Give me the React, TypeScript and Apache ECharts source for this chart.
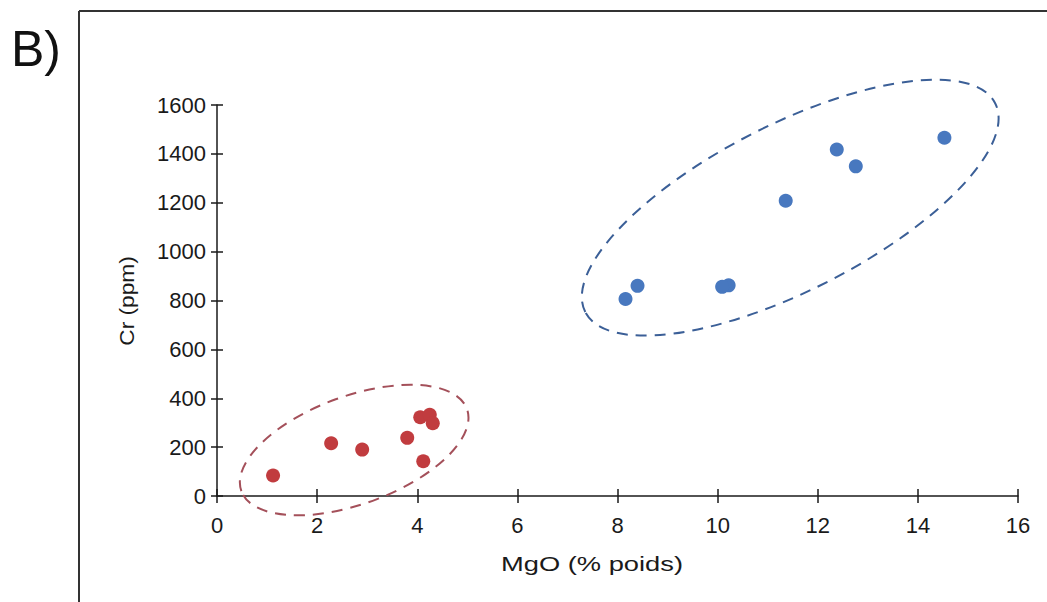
import React, { useEffect, useRef } from "react";
import * as echarts from "echarts";

// MgO (% poids) vs Cr (ppm)
const redMgO = [1.12, 2.28, 2.9, 3.8, 4.06, 4.25, 4.31, 4.12];
const redCr = [84, 216, 190, 238, 322, 332, 298, 142];
const blueMgO = [14.53, 12.38, 12.76, 11.36, 10.22, 10.09, 8.4, 8.16];
const blueCr = [1466, 1418, 1349, 1208, 862, 856, 860, 806];
// ellipse centres (data units)
const redCenter = [2.74, 188];
const blueCenter = [11.45, 1180];
const xTicks = [0, 2, 4, 6, 8, 10, 12, 14, 16];
const yTicks = [0, 200, 400, 600, 800, 1000, 1200, 1400, 1600];

const FONT = "'Liberation Sans', Arial, sans-serif";
const RED = "#c13c3f";
const BLUE = "#4878bf";

function ellipseSeries(center: number[], rx: number, ry: number, deg: number, color: string) {
  return {
    type: "custom",
    xAxisIndex: 0,
    yAxisIndex: 0,
    clip: false,
    silent: true,
    data: [center],
    renderItem: (params: any, api: any) => {
      const p = api.coord([api.value(0), api.value(1)]);
      return {
        type: "ellipse",
        x: p[0],
        y: p[1],
        rotation: (deg * Math.PI) / 180,
        shape: { cx: 0, cy: 0, rx, ry },
        style: { fill: "none", stroke: color, lineWidth: 2, lineDash: [11, 8] },
      };
    },
    z: 1,
  };
}

export default function App() {
  const ref = useRef<HTMLDivElement>(null);
  useEffect(() => {
    if (!ref.current) return;
    const chart = echarts.init(ref.current, undefined, { renderer: "svg" });
    const axisLine = { show: true, onZero: false, lineStyle: { color: "#1a1a1a", width: 1.5 } };
    const tickStyle = { color: "#1a1a1a", width: 1.5 };
    const fmt = (v: number) => String(v);
    chart.setOption({
      animation: false,
      backgroundColor: "#ffffff",
      grid: { left: 217, top: 105, width: 801, height: 391, containLabel: false },
      xAxis: [
        {
          type: "value",
          min: xTicks[0],
          max: xTicks[xTicks.length - 1],
          interval: 2,
          position: "bottom",
          axisLine,
          axisTick: { show: true, length: 7, lineStyle: tickStyle },
          axisLabel: { color: "#1a1a1a", fontSize: 22, fontFamily: FONT, margin: 18, formatter: fmt },
          splitLine: { show: false },
        },
        {
          type: "value",
          min: xTicks[0],
          max: xTicks[xTicks.length - 1],
          interval: 2,
          position: "bottom",
          axisLine: { show: false },
          axisTick: { show: true, inside: true, length: 7, lineStyle: tickStyle },
          axisLabel: { show: false },
          splitLine: { show: false },
        },
      ],
      yAxis: [
        {
          type: "value",
          min: yTicks[0],
          max: yTicks[yTicks.length - 1],
          interval: 200,
          position: "left",
          axisLine,
          axisTick: { show: true, length: 6, lineStyle: tickStyle },
          axisLabel: { color: "#1a1a1a", fontSize: 22, fontFamily: FONT, margin: 11, formatter: fmt },
          splitLine: { show: false },
        },
        {
          type: "value",
          min: yTicks[0],
          max: yTicks[yTicks.length - 1],
          interval: 200,
          position: "left",
          axisLine: { show: false },
          axisTick: { show: true, inside: true, length: 6, lineStyle: tickStyle },
          axisLabel: { show: false },
          splitLine: { show: false },
        },
      ],
      series: [
        ellipseSeries(redCenter, 120, 54, 20, "#a4505a"),
        ellipseSeries(blueCenter, 230, 83, 27, "#3b5f97"),
        {
          type: "scatter",
          xAxisIndex: 0,
          yAxisIndex: 0,
          symbolSize: 14,
          itemStyle: { color: RED, opacity: 1 },
          data: redMgO.map((v, i) => [v, redCr[i]]),
          z: 3,
        },
        {
          type: "scatter",
          xAxisIndex: 0,
          yAxisIndex: 0,
          symbolSize: 14,
          itemStyle: { color: BLUE, opacity: 1 },
          data: blueMgO.map((v, i) => [v, blueCr[i]]),
          z: 3,
        },
      ],
      graphic: [
        { type: "line", shape: { x1: 79, y1: 11, x2: 1047, y2: 11 }, style: { stroke: "#333", lineWidth: 2 } },
        { type: "line", shape: { x1: 79, y1: 11, x2: 79, y2: 602 }, style: { stroke: "#333", lineWidth: 2 } },
        {
          type: "text",
          x: 11,
          y: 74,
          style: { text: "B)", font: `50px ${FONT}`, fill: "#111", textAlign: "left", textVerticalAlign: "bottom" },
        },
        {
          type: "text",
          x: 592,
          y: 564,
          scaleX: 1.3,
          style: { text: "MgO (% poids)", font: `21px ${FONT}`, fill: "#1a1a1a", textAlign: "center", textVerticalAlign: "middle" },
        },
        {
          type: "text",
          x: 127,
          y: 301,
          rotation: Math.PI / 2,
          scaleX: 1.08,
          style: { text: "Cr (ppm)", font: `21px ${FONT}`, fill: "#1a1a1a", textAlign: "center", textVerticalAlign: "middle" },
        },
      ],
    });
    return () => chart.dispose();
  }, []);
  return <div ref={ref} style={{ position: "absolute", left: 0, top: 0, width: 1047, height: 602 }} />;
}
